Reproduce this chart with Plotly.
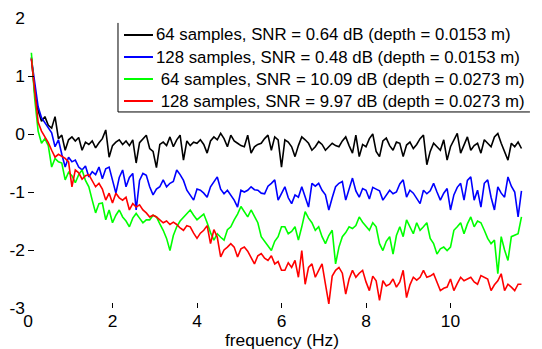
import numpy as np
import plotly.graph_objects as go

# frequency bins (Hz)
freq = np.round(0.08 * np.arange(1, 147), 2)

black_64_snr064 = [
    1.32, 0.70, 0.40, 0.22, 0.30, 0.15, 0.10, 0.30, -0.08, -0.02,
    -0.28, -0.10, -0.05, -0.12, -0.06, -0.28, -0.14, -0.18, -0.12, -0.24,
    -0.15, -0.08, 0.07, -0.40, -0.20, -0.14, -0.10, -0.18, -0.12, -0.20,
    -0.10, -0.50, -0.15, -0.08, -0.02, -0.25, -0.30, -0.58, -0.18, -0.14,
    -0.20, -0.05, -0.22, -0.10, -0.02, -0.45, -0.12, -0.20, -0.14, -0.16,
    -0.10, -0.18, -0.33, -0.12, -0.05, -0.10, 0.01, -0.08, -0.22, -0.02,
    -0.12, -0.16, -0.20, -0.22, -0.02, -0.33, -0.22, -0.18, -0.16, -0.08,
    -0.02, -0.28, -0.05, -0.10, -0.57, -0.10, -0.14, -0.22, -0.39, -0.20,
    -0.05, -0.10, -0.16, -0.28, -0.22, -0.13, -0.18, -0.28, -0.22, -0.16,
    -0.20, -0.22, -0.12, -0.05, -0.20, -0.33, -0.02, -0.39, -0.18, -0.22,
    -0.08, 0.00, -0.30, -0.39, -0.12, -0.07, -0.20, -0.28, -0.14, -0.16,
    -0.39, -0.19, -0.14, -0.25, -0.18, -0.08, -0.02, -0.53, -0.30, -0.16,
    -0.22, -0.28, -0.10, -0.45, -0.22, -0.10, 0.01, -0.33, -0.20, -0.05,
    -0.28, -0.20, -0.16, -0.33, -0.10, -0.16, -0.22, -0.05, 0.01, -0.16,
    -0.30, -0.45, -0.16, -0.22, -0.14, -0.25,
]

blue_128_snr048 = [
    1.30, 0.85, 0.47, 0.28, 0.20, 0.12, 0.02, -0.22, -0.10, -0.35,
    -0.57, -0.40, -0.48, -0.45, -0.57, -0.62, -0.55, -0.74, -0.65, -0.70,
    -0.57, -0.77, -0.60, -0.57, -0.80, -1.02, -0.75, -0.62, -0.91, -0.75,
    -0.68, -1.31, -0.80, -0.68, -0.71, -0.91, -1.05, -0.95, -0.91, -0.79,
    -0.91, -0.85, -0.82, -0.62, -0.70, -0.80, -0.97, -1.05, -1.14, -0.95,
    -0.97, -1.02, -1.09, -0.91, -0.82, -0.74, -0.95, -1.03, -0.97, -1.05,
    -1.14, -1.26, -0.97, -1.00, -0.97, -0.91, -0.96, -0.97, -1.02, -1.03,
    -0.90, -0.85, -0.79, -1.14, -1.03, -0.91, -1.10, -1.20, -1.05, -1.09,
    -0.91, -1.10, -1.26, -0.85, -0.90, -0.85, -0.97, -1.05, -1.31, -1.10,
    -0.91, -0.85, -0.82, -1.14, -0.95, -0.76, -0.98, -1.09, -0.94, -0.97,
    -1.12, -0.92, -0.95, -0.98, -1.14, -1.05, -0.97, -1.03, -1.00, -0.86,
    -0.79, -1.09, -0.97, -1.02, -1.12, -1.20, -0.97, -1.03, -0.98, -0.85,
    -1.00, -1.14, -1.02, -0.94, -1.31, -1.05, -0.92, -0.85, -1.14, -0.80,
    -0.74, -1.14, -0.97, -1.26, -0.85, -0.79, -1.09, -1.31, -0.91, -1.02,
    -1.09, -0.74, -0.90, -1.00, -1.43, -0.98,
]

green_64_snr1009 = [
    1.40, 0.60, 0.05, -0.16, -0.08, -0.20, -0.57, -0.42, -0.48, -0.50,
    -0.79, -0.66, -0.72, -0.84, -0.70, -0.62, -0.80, -0.91, -1.14, -1.36,
    -1.20, -1.19, -1.48, -1.31, -1.53, -1.40, -1.31, -1.43, -1.50, -1.60,
    -1.45, -1.37, -1.45, -1.53, -1.48, -1.48, -1.40, -1.43, -1.55, -1.66,
    -1.80, -2.01, -1.75, -1.60, -1.50, -1.43, -1.38, -1.31, -1.40, -1.48,
    -1.43, -1.38, -1.53, -1.70, -1.83, -1.72, -1.78, -1.83, -1.65, -1.60,
    -1.48, -1.38, -1.25, -1.35, -1.43, -1.31, -1.42, -1.53, -1.77, -1.85,
    -1.95, -2.01, -1.85, -1.77, -1.60, -1.60, -1.72, -1.68, -1.60, -1.83,
    -1.60, -1.34, -1.45, -1.53, -1.66, -1.60, -1.77, -1.89, -1.75, -1.66,
    -2.24, -1.95, -1.77, -1.70, -1.60, -1.63, -1.58, -1.43, -1.52, -1.60,
    -1.66, -1.53, -1.60, -1.89, -2.01, -1.85, -1.77, -2.07, -1.75, -1.60,
    -1.77, -1.48, -1.60, -1.72, -1.53, -1.66, -1.60, -1.53, -1.80, -1.89,
    -2.07, -1.98, -1.95, -2.01, -1.95, -1.66, -1.60, -1.53, -1.72, -1.55,
    -1.43, -1.60, -1.50, -1.53, -1.66, -1.80, -1.89, -1.83, -2.41, -1.77,
    -2.00, -2.18, -1.77, -1.75, -1.72, -1.43,
]

red_128_snr997 = [
    1.30, 0.75, 0.20, 0.05, -0.05, -0.15, -0.28, -0.40, -0.35, -0.38,
    -0.42, -0.48, -0.91, -0.62, -0.67, -0.78, -0.72, -0.70, -0.80, -0.91,
    -0.85, -0.95, -1.14, -1.02, -1.19, -1.02, -1.10, -1.14, -1.09, -1.31,
    -1.20, -1.26, -1.22, -1.31, -1.36, -1.43, -1.40, -1.43, -1.48, -1.53,
    -1.50, -1.56, -1.52, -1.56, -1.62, -1.66, -1.58, -1.60, -1.71, -1.80,
    -1.71, -1.66, -1.58, -1.89, -1.65, -1.78, -2.12, -2.00, -1.95, -1.89,
    -1.95, -2.12, -1.98, -1.95, -2.02, -2.12, -2.24, -2.10, -2.06, -2.14,
    -2.18, -2.10, -2.24, -2.20, -2.35, -2.35, -2.22, -2.30, -2.18, -2.47,
    -2.01, -2.59, -2.30, -2.24, -2.47, -2.35, -2.24, -2.59, -2.93, -2.45,
    -2.35, -2.30, -2.40, -2.76, -2.50, -2.35, -2.47, -2.40, -2.35, -2.55,
    -2.70, -2.45, -2.53, -2.87, -2.53, -2.62, -2.59, -2.50, -2.64, -2.55,
    -2.35, -2.82, -2.60, -2.47, -2.52, -2.47, -2.35, -2.47, -2.45, -2.41,
    -2.55, -2.70, -2.66, -2.64, -2.50, -2.70, -2.58, -2.47, -2.53, -2.50,
    -2.47, -2.55, -2.59, -2.44, -2.47, -2.50, -2.70, -2.60, -2.53, -2.41,
    -2.70, -2.59, -2.64, -2.70, -2.59, -2.59,
]

series_names = [
    "64 samples, SNR = 0.64 dB (depth = 0.0153 m)",
    "128 samples, SNR = 0.48 dB (depth = 0.0153 m)",
    " 64 samples, SNR = 10.09 dB (depth = 0.0273 m)",
    " 128 samples, SNR = 9.97 dB (depth = 0.0273 m)",
]
series_values = [black_64_snr064, blue_128_snr048, green_64_snr1009, red_128_snr997]
series_colors = ["#000000", "#0000ff", "#00ff00", "#ff0000"]

x_ticks = [0, 2, 4, 6, 8, 10, 12]
x_ticktext = ["0", "2", "4", "6", "8", "10", "12"]
y_ticks = [-3, -2, -1, 0, 1, 2]
y_ticktext = ["-3", "-2", "-1", "0", "1", "2"]
x_title = "frequency (Hz)"

FONT = "Liberation Sans, Arial, sans-serif"
FS = 17.4
FS_LEG = 16.8

fig = go.Figure()
for name, vals, col in zip(series_names, series_values, series_colors):
    fig.add_trace(go.Scatter(x=freq, y=vals, mode="lines", name=name,
                             showlegend=False,
                             line=dict(color=col, width=1.6)))

# manual legend (box with only left and bottom edges, as in the original)
shapes = [
    dict(type="line", xref="paper", yref="paper", x0=0.1775, x1=0.1775,
         y0=0.676, y1=0.983, line=dict(color="black", width=1)),
    dict(type="line", xref="paper", yref="paper", x0=0.1775, x1=0.990,
         y0=0.676, y1=0.676, line=dict(color="black", width=1)),
]
annotations = []
row_top, row_step = 0.9414, 0.0759
for i, (name, col) in enumerate(zip(series_names, series_colors)):
    yy = row_top - i * row_step
    shapes.append(dict(type="line", xref="paper", yref="paper",
                       x0=0.1893, x1=0.2465, y0=yy, y1=yy,
                       line=dict(color=col, width=2)))
    annotations.append(dict(xref="paper", yref="paper", x=0.2485, y=yy,
                            xanchor="left", yanchor="middle", showarrow=False,
                            text=name.replace(" ", "&nbsp;", 1) if name.startswith(" ") else name,
                            font=dict(family=FONT, size=FS_LEG, color="black")))

# x-axis title
annotations.append(dict(xref="paper", yref="paper", x=0.5, y=-0.112,
                        xanchor="center", yanchor="middle", showarrow=False,
                        text=x_title, font=dict(family=FONT, size=FS, color="black")))

fig.update_layout(
    width=542, height=349,
    margin=dict(l=28, r=7, t=18, b=41),
    paper_bgcolor="white", plot_bgcolor="white",
    font=dict(family=FONT, size=FS, color="black"),
    showlegend=False,
    xaxis=dict(range=[0, 12], tickvals=x_ticks, ticktext=x_ticktext,
               ticks="inside", ticklen=5, tickcolor="black", showline=False,
               showgrid=False, zeroline=False, ticklabelstandoff=1,
               automargin=False),
    yaxis=dict(range=[-3, 2], tickvals=y_ticks, ticktext=y_ticktext,
               ticks="inside", ticklen=6, tickcolor="black", showline=False,
               showgrid=False, zeroline=False, ticklabelstandoff=2,
               automargin=False),
    shapes=shapes,
    annotations=annotations,
)

fig.write_html("out.html")
